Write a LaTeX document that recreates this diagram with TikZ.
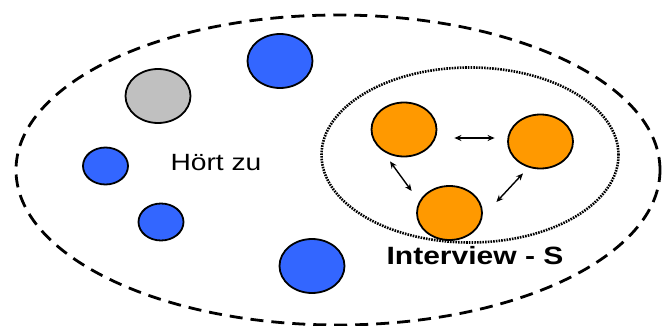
\documentclass[tikz,border=0pt]{standalone}
\usepackage{fontspec}
\setmainfont{Liberation Sans}
\usepackage{graphicx}
\usetikzlibrary{shapes.geometric,arrows.meta}
\definecolor{ballblue}{RGB}{51,102,255}
\definecolor{ballorange}{RGB}{255,153,0}
\definecolor{ballgray}{RGB}{192,192,192}
\tikzset{
  ball/.style={ellipse, draw=black, line width=1.8pt, inner sep=0pt},
  bigball/.style={ball, minimum width=65pt, minimum height=54pt},
  smallball/.style={ball, minimum width=45pt, minimum height=37pt},
  arr/.style={{Stealth[length=7pt,width=6pt]}-{Stealth[length=7pt,width=6pt]}, line width=1.4pt},
  outer/.style={ellipse, draw=black, line width=2.8pt, dash pattern=on 13pt off 8pt, inner sep=0pt},
  inner/.style={ellipse, draw=black, line width=2.6pt, dash pattern=on 1.6pt off 1.1pt, inner sep=0pt},
  lbl/.style={inner sep=0pt, text=black}
}
\begin{document}
\begin{tikzpicture}[x=1pt,y=-1pt]
\path[use as bounding box, fill=white] (0,0) rectangle (669,326);
\node[outer, minimum width=644pt, minimum height=310pt] (outerring) at (338,170) {};
\node[inner, minimum width=297pt, minimum height=175pt] (innerring) at (470,155) {};
% left group
\node[bigball, fill=ballblue] (b1) at (280,61) {};
\node[bigball, fill=ballgray] (g1) at (158,96) {};
\node[smallball, fill=ballblue] (b2) at (105.5,166) {};
\node[smallball, fill=ballblue] (b3) at (161,222) {};
\node[bigball, fill=ballblue] (b4) at (312,266) {};
% interview group
\node[bigball, fill=ballorange] (o1) at (404,129.5) {};
\node[bigball, fill=ballorange] (o2) at (540.5,141.5) {};
\node[bigball, fill=ballorange] (o3) at (449.5,213) {};
\draw[arr] ([shift={(17,8.5)}]o1.east) -- ([shift={(-12.5,-3.5)}]o2.west);
\draw[arr] ([shift={(-14,4)}]o1.south) -- ([shift={(-4.5,-22)}]o3.west);
\draw[arr] ([shift={(-17.5,4)}]o2.south) -- ([shift={(13.5,-11)}]o3.east);
% labels
\node[lbl] (hoert) at (216,163) {\scalebox{1.2}[1]{\fontsize{23.5}{23.5}\selectfont Hört zu}};
\node[lbl] (interview) at (475,256) {\scalebox{1.2}[1]{\fontsize{25}{25}\selectfont\bfseries Interview - S}};
\end{tikzpicture}
\end{document}
